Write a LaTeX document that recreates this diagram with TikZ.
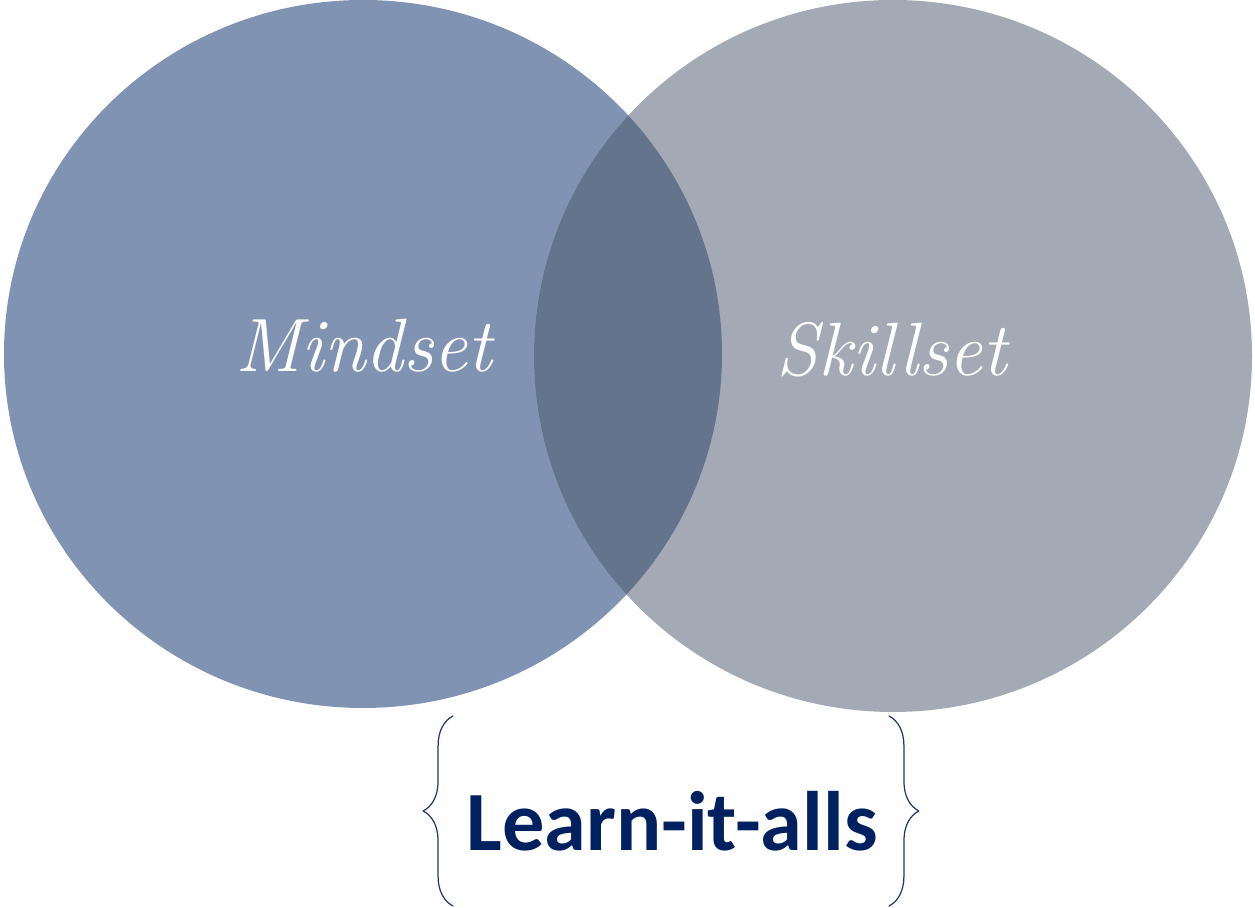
\documentclass[tikz,border=0pt]{standalone}
\usepackage{fontspec}
\newfontfamily\calibrifont{Carlito}
\usetikzlibrary{decorations.pathreplacing}
\definecolor{mmbbcc}{rgb}{0.5019607843137255,0.5764705882352941,0.7019607843137254}
\definecolor{aaaabb}{rgb}{0.6392156862745098,0.6666666666666666,0.7098039215686275}
\definecolor{ggttcc}{rgb}{0.39215686274509803,0.4549019607843137,0.5490196078431373}
\definecolor{qqbbgg}{rgb}{0.,0.12549019607843137,0.3764705882352941}
\definecolor{bbccdd}{rgb}{0.12156862745098039,0.2196078431372549,0.4549019607843137}

\begin{document}
\begin{tikzpicture}[line cap=round,line join=round,x=0.02cm,y=0.02cm]
\useasboundingbox (0,0) rectangle (1255,908);
\fill[color=mmbbcc] (363,554) ellipse (359 and 354);
\fill[color=aaaabb] (893,552) ellipse (359 and 356);
\begin{scope}
\clip (363,554) ellipse (359 and 354);
\fill[color=ggttcc] (893,552) ellipse (359 and 356);
\end{scope}
\draw[color=white] (364,536) node [anchor=base,font=\fontsize{43}{48}\selectfont\itshape] (mind) {Mindset};
\draw[color=white] (892,532) node [anchor=base,font=\fontsize{43}{48}\selectfont\itshape] (skill) {Skillset};
\draw[color=qqbbgg] (672,57) node [anchor=base,font=\fontsize{48}{54}\selectfont\calibrifont\bfseries] (learn) {Learn-it-alls};
\coordinate (lb) at (453,2);
\coordinate (lt) at (453,192);
\coordinate (rt) at (889,192);
\coordinate (rb) at (889,2);
\draw[line width=0.7pt,color=bbccdd,decorate,decoration={brace,amplitude=17pt}] (lb) -- (lt);
\draw[line width=0.7pt,color=bbccdd,decorate,decoration={brace,amplitude=17pt}] (rt) -- (rb);
\end{tikzpicture}
\end{document}
